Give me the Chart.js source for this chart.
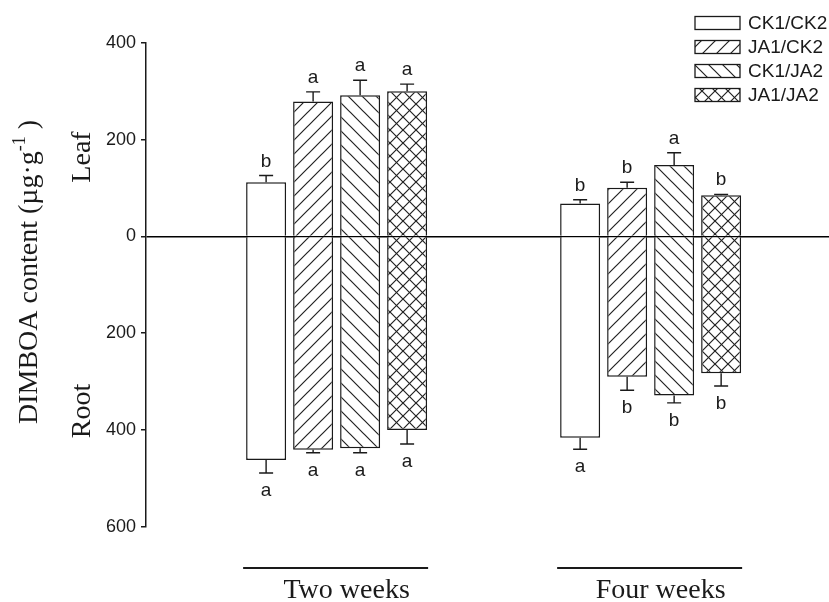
<!DOCTYPE html>
<html><head><meta charset="utf-8">
<script src="https://cdn.jsdelivr.net/npm/chart.js@4/dist/chart.umd.min.js"></script>
<style>html,body{margin:0;padding:0;background:#fff}</style>
</head><body>
<canvas id="c" width="829" height="602"></canvas>
<script>
// ---- data ----
const groups = ['Two weeks', 'Four weeks'];
const groupX = [1, 2];
const treatments = ['CK1/CK2', 'JA1/CK2', 'CK1/JA2', 'JA1/JA2'];
const yTicks = [400, 200, 0, -200, -400, -600];

const leafCK1CK2 = [112, 68];
const leafJA1CK2 = [279, 101];
const leafCK1JA2 = [292, 148];
const leafJA1JA2 = [300, 85];

const leafErrCK1CK2 = [14, 8];
const leafErrJA1CK2 = [20, 11];
const leafErrCK1JA2 = [31, 25];
const leafErrJA1JA2 = [15, 2];

const rootCK1CK2 = [462, 416];
const rootJA1CK2 = [441, 290];
const rootCK1JA2 = [438, 329];
const rootJA1JA2 = [400, 283];

const rootErrCK1CK2 = [27, 24];
const rootErrJA1CK2 = [6, 28];
const rootErrCK1JA2 = [9, 15];
const rootErrJA1JA2 = [29, 26];

const leafLetCK1CK2 = ['b', 'b'];
const leafLetJA1CK2 = ['a', 'b'];
const leafLetCK1JA2 = ['a', 'a'];
const leafLetJA1JA2 = ['a', 'b'];

const rootLetCK1CK2 = ['a', 'a'];
const rootLetJA1CK2 = ['a', 'b'];
const rootLetCK1JA2 = ['a', 'b'];
const rootLetJA1JA2 = ['a', 'b'];

const leafVals = [leafCK1CK2, leafJA1CK2, leafCK1JA2, leafJA1JA2];
const leafErrs = [leafErrCK1CK2, leafErrJA1CK2, leafErrCK1JA2, leafErrJA1JA2];
const rootVals = [rootCK1CK2, rootJA1CK2, rootCK1JA2, rootJA1JA2];
const rootErrs = [rootErrCK1CK2, rootErrJA1CK2, rootErrCK1JA2, rootErrJA1JA2];
const leafLets = [leafLetCK1CK2, leafLetJA1CK2, leafLetCK1JA2, leafLetJA1JA2];
const rootLets = [rootLetCK1CK2, rootLetJA1CK2, rootLetCK1JA2, rootLetJA1JA2];

// ---- styles ----
const INK = '#1a1a1a';
const SANS = '"Liberation Sans", Arial, sans-serif';
const SERIF = '"Liberation Serif", "Times New Roman", serif';

function makePattern(kind) {
  const s = kind === 'cross' ? 13 : 14;
  const c = document.createElement('canvas');
  c.width = s; c.height = s;
  const g = c.getContext('2d');
  g.fillStyle = '#fff'; g.fillRect(0, 0, s, s);
  g.strokeStyle = '#222'; g.lineWidth = 1.2;
  const fwd = () => {
    g.beginPath();
    g.moveTo(-1, 1); g.lineTo(1, -1);
    g.moveTo(0, s); g.lineTo(s, 0);
    g.moveTo(s - 1, s + 1); g.lineTo(s + 1, s - 1);
    g.stroke();
  };
  const back = () => {
    g.beginPath();
    g.moveTo(-1, s - 1); g.lineTo(1, s + 1);
    g.moveTo(0, 0); g.lineTo(s, s);
    g.moveTo(s - 1, -1); g.lineTo(s + 1, 1);
    g.stroke();
  };
  if (kind === 'fwd' || kind === 'cross') fwd();
  if (kind === 'back' || kind === 'cross') back();
  return g.createPattern(c, 'repeat');
}
const fills = ['#ffffff', makePattern('fwd'), makePattern('back'), makePattern('cross')];

const datasets = [];
treatments.forEach((t, ti) => {
  const common = {
    stack: 's' + ti,
    backgroundColor: fills[ti],
    borderColor: INK,
    borderWidth: 1.5,
    borderSkipped: 'start',
    categoryPercentage: 0.5987,
    barPercentage: 0.851
  };
  datasets.push(Object.assign({
    label: t, part: 'leaf', tIndex: ti,
    data: groupX.map((x, i) => ({ x: x, y: leafVals[ti][i] })),
    errs: leafErrs[ti], lets: leafLets[ti]
  }, common));
  datasets.push(Object.assign({
    label: t, part: 'root', tIndex: ti,
    data: groupX.map((x, i) => ({ x: x, y: -rootVals[ti][i] })),
    errs: rootErrs[ti], lets: rootLets[ti]
  }, common));
});

// ---- plugins ----
const errorBars = {
  id: 'errorBars',
  afterDatasetsDraw(chart) {
    const ctx = chart.ctx, ys = chart.scales.y;
    ctx.save();
    ctx.strokeStyle = INK; ctx.lineWidth = 1.4;
    ctx.fillStyle = INK; ctx.font = '19px ' + SANS; ctx.textAlign = 'center';
    ctx.textBaseline = 'alphabetic';
    chart.data.datasets.forEach((ds, di) => {
      const meta = chart.getDatasetMeta(di);
      meta.data.forEach((bar, i) => {
        const v = ds.data[i].y;
        const sign = v >= 0 ? 1 : -1;
        const yEnd = ys.getPixelForValue(v + sign * ds.errs[i]);
        ctx.beginPath();
        ctx.moveTo(bar.x, bar.y); ctx.lineTo(bar.x, yEnd);
        ctx.moveTo(bar.x - 7, yEnd); ctx.lineTo(bar.x + 7, yEnd);
        ctx.stroke();
        if (sign > 0) ctx.fillText(ds.lets[i], bar.x, yEnd - 9);
        else ctx.fillText(ds.lets[i], bar.x, yEnd + 23);
      });
    });
    ctx.restore();
  }
};

const decorations = {
  id: 'decorations',
  afterDraw(chart) {
    const ctx = chart.ctx;
    ctx.save();
    // group lines under the bars
    ctx.strokeStyle = INK; ctx.lineWidth = 2;
    groupX.forEach((gx, gi) => {
      let lo = Infinity, hi = -Infinity;
      chart.data.datasets.forEach((ds, di) => {
        const b = chart.getDatasetMeta(di).data[gi];
        lo = Math.min(lo, b.x - b.width / 2);
        hi = Math.max(hi, b.x + b.width / 2);
      });
      ctx.beginPath(); ctx.moveTo(lo - 3, 568); ctx.lineTo(hi + 1, 568); ctx.stroke();
    });
    // y title
    ctx.fillStyle = INK;
    ctx.textBaseline = 'alphabetic';
    const main = 'DIMBOA content (\u00b5g\u00b7g', sup = '-1', close = ' )';
    ctx.font = '28px ' + SERIF;
    const wMain = ctx.measureText(main).width, wClose = ctx.measureText(close).width;
    ctx.font = '18px ' + SERIF;
    const wSup = ctx.measureText(sup).width;
    const total = wMain + wSup + wClose;
    ctx.save();
    ctx.translate(37, 272); ctx.rotate(-Math.PI / 2);
    let x0 = -total / 2;
    ctx.textAlign = 'left';
    ctx.font = '28px ' + SERIF; ctx.fillText(main, x0, 0); x0 += wMain;
    ctx.font = '18px ' + SERIF; ctx.fillText(sup, x0, -12); x0 += wSup;
    ctx.font = '28px ' + SERIF; ctx.fillText(close, x0, 0);
    ctx.restore();
    // Leaf / Root
    ctx.font = '28px ' + SERIF; ctx.textAlign = 'center';
    [['Leaf', 157], ['Root', 411]].forEach(([t, cy]) => {
      ctx.save(); ctx.translate(90, cy); ctx.rotate(-Math.PI / 2);
      ctx.fillText(t, 0, 0); ctx.restore();
    });
    // legend
    const rows = [23, 47, 71, 95];
    ctx.textAlign = 'left'; ctx.textBaseline = 'middle';
    ctx.font = '19px ' + SANS;
    treatments.forEach((t, ti) => {
      const cy = rows[ti];
      ctx.fillStyle = fills[ti];
      ctx.fillRect(695, cy - 6.5, 45, 13);
      ctx.strokeStyle = INK; ctx.lineWidth = 1.3;
      ctx.strokeRect(695, cy - 6.5, 45, 13);
      ctx.fillStyle = INK;
      ctx.fillText(t, 748, cy + 1);
    });
    ctx.restore();
  }
};

new Chart(document.getElementById('c'), {
  type: 'bar',
  data: { datasets: datasets },
  plugins: [errorBars, decorations],
  options: {
    responsive: false,
    devicePixelRatio: 1,
    animation: false,
    events: [],
    layout: { padding: { top: 43, right: 0, left: 0, bottom: 0 } },
    plugins: { legend: { display: false }, tooltip: { enabled: false } },
    scales: {
      x: {
        type: 'linear',
        offset: false,
        min: 0.393, max: 2.568,
        grid: { display: false, drawTicks: false, offset: false },
        border: { display: false },
        afterBuildTicks: (s) => { s.ticks = groupX.map(v => ({ value: v })); },
        afterFit: (s) => { s.height = 75.3; },
        ticks: {
          padding: 47,
          labelOffset: 10,
          color: INK,
          font: { family: SERIF, size: 28 },
          callback: (v, i) => groups[i]
        }
      },
      y: {
        z: 1,
        min: -600, max: 400,
        afterBuildTicks: (s) => { s.ticks = yTicks.map(v => ({ value: v })); },
        afterFit: (s) => { s.width = 146; },
        border: { display: true, color: INK, width: 1.5 },
        grid: {
          color: (c) => (c.tick && c.tick.value === 0) ? '#000' : 'rgba(0,0,0,0)',
          lineWidth: 1.5,
          tickColor: INK,
          tickLength: 5,
          tickWidth: 1.5
        },
        ticks: {
          padding: 5,
          color: INK,
          font: { family: SANS, size: 18 },
          callback: (v) => String(Math.abs(v))
        }
      }
    }
  }
});
</script>
</body></html>
